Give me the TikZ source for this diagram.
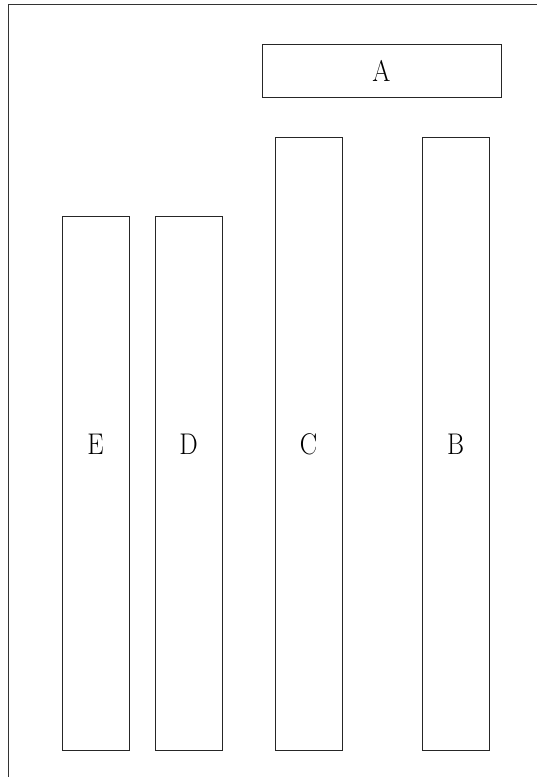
\documentclass[tikz,border=0pt]{standalone}
\usepackage{fontspec}
\newcommand{\barlabel}[1]{\scalebox{1.0}[1.15]{#1}}
\begin{document}
\begin{tikzpicture}[x=1pt,y=-1pt,
  bar/.style={draw=black!85, line width=0.9pt, inner sep=0pt, font=\fontsize{26}{30}\selectfont},
  lab/.style={font=\fontsize{26}{30}\selectfont, inner sep=0pt},
  frame/.style={draw=black!80, line width=1pt}]
\useasboundingbox (0,0) rectangle (537,777);
\draw[frame] (8.5,777) -- (8.5,4.5) -- (537,4.5);
\node[bar, minimum width=239pt, minimum height=53pt] (A) at (381.5,70.5) {};
\node[lab] (lA) at (A.center) {\barlabel{A}};
\node[bar, minimum width=67pt, minimum height=613pt] (C) at (308.5,443.5) {};
\node[bar, minimum width=67pt, minimum height=613pt] (B) at (455.5,443.5) {};
\node[bar, minimum width=67pt, minimum height=534pt] (E) at (95.5,483) {};
\node[bar, minimum width=67pt, minimum height=534pt] (D) at (188.5,483) {};
\foreach \n/\x in {E/95.5, D/188.5, C/308.5, B/455.5}
  \node[lab] (l\n) at (\x,444.5) {\barlabel{\n}};
\end{tikzpicture}
\end{document}
